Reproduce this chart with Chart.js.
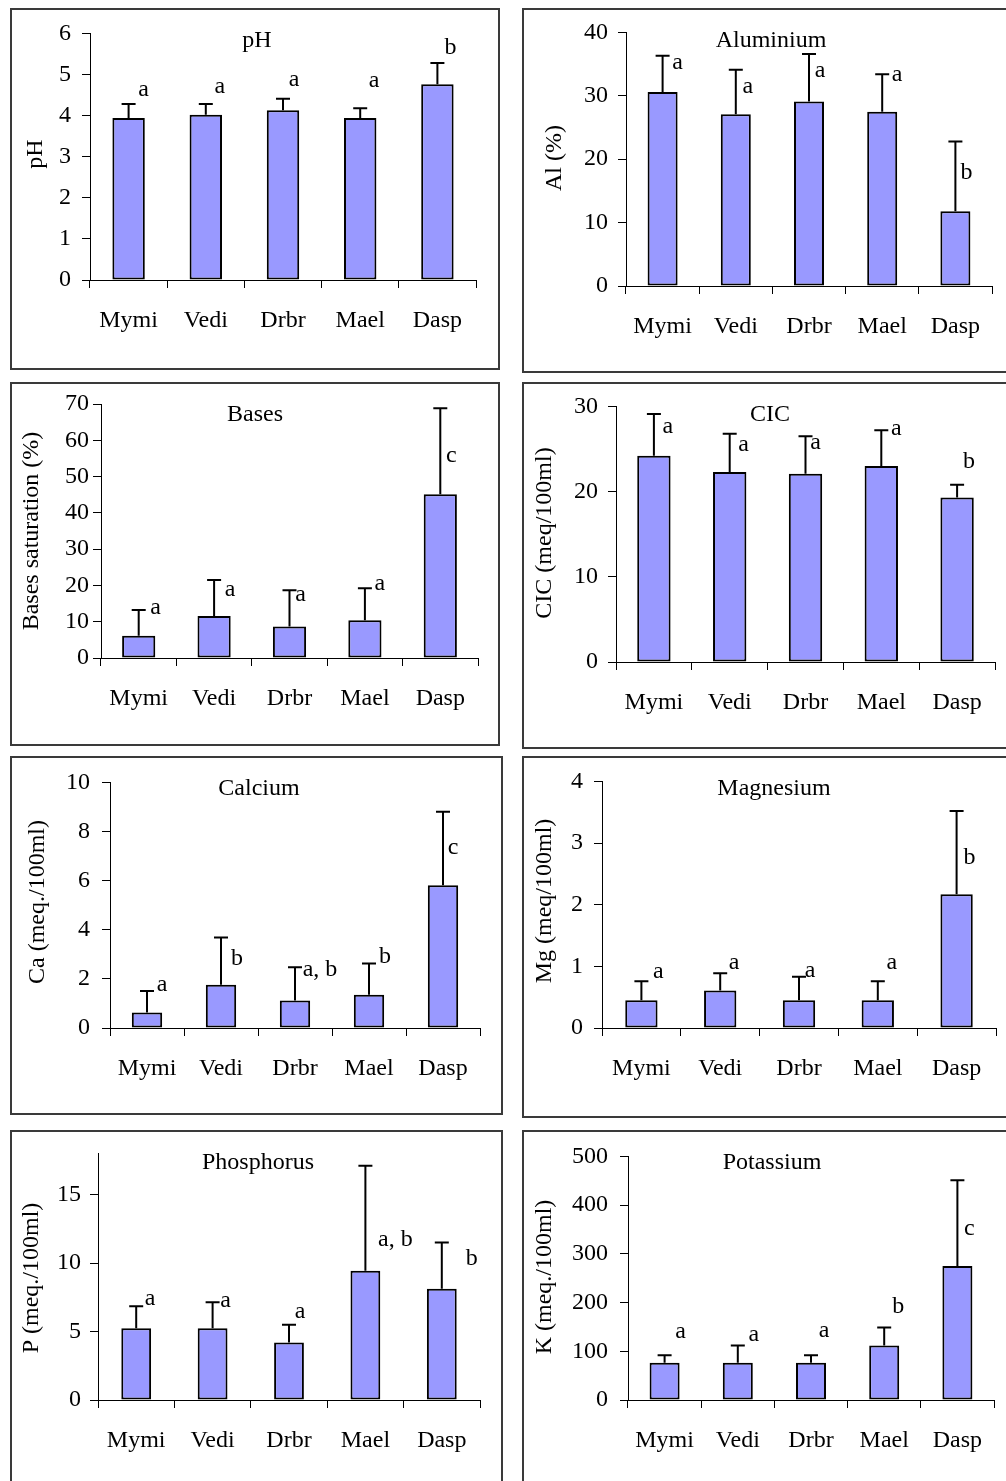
<!DOCTYPE html>
<html>
<head>
<meta charset="utf-8">
<script src="https://cdn.jsdelivr.net/npm/chart.js@4.4.0/dist/chart.umd.min.js"></script>
<style>
  html, body { margin: 0; padding: 0; background: #fff; }
  body { width: 1006px; height: 1481px; position: relative; overflow: hidden; }
  .box { position: absolute; border: 2px solid #3a3a3a; box-sizing: border-box; pointer-events: none; }
  canvas { position: absolute; }
</style>
</head>
<body>
<script>
// species (categories)
var categories = ["Mymi", "Vedi", "Drbr", "Mael", "Dasp"];

// means and standard deviations
var phMean = [3.94, 4.02, 4.13, 3.94, 4.76];
var phSd = [0.34, 0.26, 0.28, 0.24, 0.52];
var phLetters = ["a", "a", "a", "a", "b"];

var alMean = [30.6, 27.1, 29.1, 27.5, 11.8];
var alSd = [5.7, 7.0, 7.5, 5.9, 11.0];
var alLetters = ["a", "a", "a", "a", "b"];

var basesMean = [6.1, 11.6, 8.7, 10.4, 45.1];
var basesSd = [7.1, 9.9, 10.0, 8.8, 23.7];
var basesLetters = ["a", "a", "a", "a", "c"];

var cicMean = [24.2, 22.3, 22.1, 23.0, 19.3];
var cicSd = [4.9, 4.5, 4.4, 4.2, 1.5];
var cicLetters = ["a", "a", "a", "a", "b"];

var caMean = [0.63, 1.76, 1.12, 1.35, 5.81];
var caSd = [0.88, 1.92, 1.35, 1.28, 2.99];
var caLetters = ["a", "b", "a, b", "b", "c"];

var mgMean = [0.45, 0.61, 0.45, 0.45, 2.17];
var mgSd = [0.31, 0.28, 0.38, 0.31, 1.35];
var mgLetters = ["a", "a", "a", "a", "b"];

var pMean = [5.24, 5.24, 4.2, 9.43, 8.12];
var pSd = [1.6, 1.89, 1.3, 7.67, 3.38];
var pLetters = ["a", "a", "a", "a, b", "b"];

var kMean = [76.6, 76.6, 76.6, 112, 274.8];
var kSd = [15.4, 35.4, 15.4, 36.6, 176.2];
var kLetters = ["a", "a", "a", "b", "c"];

var FONT = "'Liberation Serif', 'Times New Roman', serif";

// panel layout (page pixels)
var panels = [
  { title: "pH", yTitle: "pH", mean: phMean, sd: phSd, letters: phLetters, max: 6, step: 1,
    box: [10, 8, 490, 362], axisX: 90, yTop: 30, yZero: 280, xRight: 476, tickPad: 11, bar: 0.42,
    titleAt: [257, 47], yTitleAt: [36, 154],
    ldx: [15, 14, 11, 14, 13], ldy: [-8, -11, -13, -21, -9] },
  { title: "Aluminium", yTitle: "Al (%)", mean: alMean, sd: alSd, letters: alLetters, max: 40, step: 10,
    box: [522, 8, 490, 365], axisX: 626, yTop: 30, yZero: 286, xRight: 992, tickPad: 10, bar: 0.41,
    titleAt: [771, 47], yTitleAt: [555, 158],
    ldx: [15, 12, 11, 15, 11], ldy: [13, 23, 23, 7, 38] },
  { title: "Bases", yTitle: "Bases saturation (%)", mean: basesMean, sd: basesSd, letters: basesLetters, max: 70, step: 10,
    box: [10, 382, 490, 364], axisX: 101, yTop: 404, yZero: 658, xRight: 478, tickPad: 4, bar: 0.44,
    titleAt: [255, 421], yTitleAt: [32, 531],
    ldx: [17, 16, 11, 15, 11], ldy: [4, 16, 11, 2, 54] },
  { title: "CIC", yTitle: "CIC (meq/100ml)", mean: cicMean, sd: cicSd, letters: cicLetters, max: 30, step: 10,
    box: [522, 382, 490, 367], axisX: 616, yTop: 404, yZero: 662, xRight: 995, tickPad: 10, bar: 0.44,
    titleAt: [770, 421], yTitleAt: [545, 533],
    ldx: [14, 14, 10, 15, 12], ldy: [19, 17, 13, 5, -17] },
  { title: "Calcium", yTitle: "Ca (meq./100ml)", mean: caMean, sd: caSd, letters: caLetters, max: 10, step: 2,
    box: [10, 756, 493, 359], axisX: 110, yTop: 778, yZero: 1028, xRight: 480, tickPad: 12, bar: 0.41,
    titleAt: [259, 795], yTitleAt: [38, 902],
    ldx: [15, 16, 25, 16, 10], ldy: [0, 27, 9, 0, 42] },
  { title: "Magnesium", yTitle: "Mg (meq/100ml)", mean: mgMean, sd: mgSd, letters: mgLetters, max: 4, step: 1,
    box: [522, 756, 490, 362], axisX: 602, yTop: 778, yZero: 1028, xRight: 996, tickPad: 11, bar: 0.41,
    titleAt: [774, 795], yTitleAt: [545, 901],
    ldx: [17, 14, 11, 14, 13], ldy: [-3, -4, 0, -12, 53] },
  { title: "Phosphorus", yTitle: "P (meq./100ml)", mean: pMean, sd: pSd, letters: pLetters, max: 18, step: 5,
    box: [10, 1130, 493, 370], axisX: 98, yTop: 1152, yZero: 1400, xRight: 480, tickPad: 9, bar: 0.39,
    titleAt: [258, 1169], yTitleAt: [32, 1278],
    ldx: [14, 13, 11, 30, 30], ldy: [-1, 5, -7, 80, 23] },
  { title: "Potassium", yTitle: "K (meq./100ml)", mean: kMean, sd: kSd, letters: kLetters, max: 500, step: 100,
    box: [522, 1130, 490, 370], axisX: 628, yTop: 1152, yZero: 1400, xRight: 994, tickPad: 12, bar: 0.41,
    titleAt: [772, 1169], yTitleAt: [545, 1277],
    ldx: [16, 16, 13, 14, 12], ldy: [-17, -4, -18, -15, 55] }
];

// error bars (upper only), significance letters, titles
var decorPlugin = {
  id: "decor",
  afterDatasetsDraw: function(chart) {
    var p = chart.options.plugins.decor.panel;
    var ctx = chart.ctx;
    var xs = chart.scales.x, ys = chart.scales.y;
    ctx.save();
    ctx.strokeStyle = "#000";
    ctx.lineWidth = 2;
    for (var i = 0; i < p.mean.length; i++) {
      var x = xs.getPixelForValue(i);
      var y0 = ys.getPixelForValue(p.mean[i]);
      var y1 = ys.getPixelForValue(p.mean[i] + p.sd[i]);
      ctx.beginPath();
      ctx.moveTo(x, y0);
      ctx.lineTo(x, y1);
      ctx.moveTo(x - 7, y1);
      ctx.lineTo(x + 7, y1);
      ctx.stroke();
      ctx.fillStyle = "#000";
      ctx.font = "24px " + FONT;
      ctx.textAlign = "center";
      ctx.textBaseline = "alphabetic";
      ctx.fillText(p.letters[i], x + p.ldx[i], y1 + p.ldy[i]);
    }
    var ox = p.box[0], oy = p.box[1];
    ctx.font = "24px " + FONT;
    ctx.textAlign = "center";
    ctx.textBaseline = "alphabetic";
    ctx.fillText(p.title, p.titleAt[0] - ox, p.titleAt[1] - oy);
    ctx.translate(p.yTitleAt[0] - ox, p.yTitleAt[1] - oy);
    ctx.rotate(-Math.PI / 2);
    ctx.textBaseline = "middle";
    ctx.fillText(p.yTitle, 0, 0);
    ctx.restore();
  }
};

panels.forEach(function(p) {
  var canvas = document.createElement("canvas");
  canvas.width = p.box[2];
  canvas.height = p.box[3];
  canvas.style.left = p.box[0] + "px";
  canvas.style.top = p.box[1] + "px";
  document.body.appendChild(canvas);

  var frame = document.createElement("div");
  frame.className = "box";
  frame.style.left = p.box[0] + "px";
  frame.style.top = p.box[1] + "px";
  frame.style.width = p.box[2] + "px";
  frame.style.height = p.box[3] + "px";
  document.body.appendChild(frame);

  var yWidth = p.axisX - p.box[0];
  var xHeight = p.box[1] + p.box[3] - p.yZero;

  new Chart(canvas.getContext("2d"), {
    type: "bar",
    data: {
      labels: categories,
      datasets: [{
        data: p.mean,
        backgroundColor: "#9999FF",
        borderColor: "#000",
        borderWidth: 2,
        borderSkipped: false,
        barPercentage: p.bar,
        categoryPercentage: 1
      }]
    },
    options: {
      responsive: false,
      animation: false,
      layout: {
        padding: {
          left: 0,
          top: p.yTop - p.box[1],
          right: p.box[0] + p.box[2] - p.xRight,
          bottom: 0
        }
      },
      scales: {
        x: {
          afterFit: function(scale) { scale.height = xHeight; },
          grid: { display: true, drawOnChartArea: false, drawTicks: true, tickLength: 8, offset: true, color: "#000", lineWidth: 1 },
          border: { display: true, color: "#000", width: 1 },
          ticks: { color: "#000", padding: 18, maxRotation: 0, autoSkip: false, font: { family: FONT, size: 24 } }
        },
        y: {
          min: 0,
          max: p.max,
          afterFit: function(scale) { scale.width = yWidth; },
          grid: { display: true, drawOnChartArea: false, drawTicks: true, tickLength: 8, color: "#000", lineWidth: 1 },
          border: { display: true, color: "#000", width: 1 },
          ticks: { stepSize: p.step, includeBounds: false, color: "#000", padding: p.tickPad, font: { family: FONT, size: 24 } }
        }
      },
      plugins: {
        legend: { display: false },
        tooltip: { enabled: false },
        decor: { panel: p }
      }
    },
    plugins: [decorPlugin]
  });
});
</script>
</body>
</html>
